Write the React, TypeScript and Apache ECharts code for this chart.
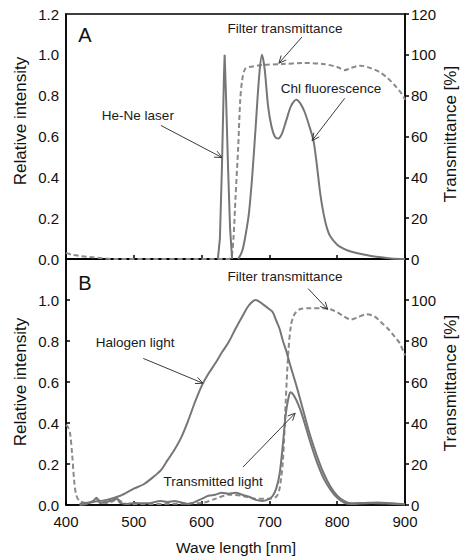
import React, { useEffect, useRef } from "react";
import * as echarts from "echarts";

// ---------- Data (wavelength in nm, relative intensity / transmittance %) ----------
// Panel A
const heNeWl = [624, 627, 630, 633, 634, 636, 639, 642, 645];
const heNeVal = [0, 0.1, 0.45, 0.9, 1.0, 0.8, 0.45, 0.15, 0];

const chlWl = [654, 660, 665, 670, 675, 680, 685, 689, 693, 698, 703, 708, 713, 718, 725, 732, 740, 746, 752, 758, 765, 770, 775, 780, 785, 790, 800, 810, 820, 835, 850, 865, 880, 900];
const chlVal = [0, 0.04, 0.12, 0.23, 0.42, 0.66, 0.9, 1.0, 0.93, 0.75, 0.65, 0.6, 0.59, 0.61, 0.68, 0.75, 0.78, 0.76, 0.72, 0.66, 0.58, 0.46, 0.32, 0.22, 0.15, 0.11, 0.07, 0.05, 0.037, 0.024, 0.015, 0.008, 0.003, 0];

const filterAWl = [400, 410, 420, 435, 450, 470, 640, 644, 647, 650, 654, 657, 660, 664, 670, 690, 720, 750, 780, 800, 811, 820, 834, 845, 860, 873, 885, 895, 900];
const filterAVal = [3, 2, 1.5, 1, 0.5, 0, 0, 1, 10, 30, 55, 78, 88, 93, 94, 95, 95.5, 96, 95.5, 94, 92.5, 93.5, 94.7, 94, 92, 89, 85, 81, 78];

// Panel B
const halWl = [420, 440, 460, 480, 500, 514, 530, 540, 550, 560, 570, 580, 590, 600, 610, 620, 630, 640, 650, 660, 670, 680, 690, 700, 705, 710, 715, 720, 725, 730, 740, 750, 760, 770, 780, 790, 800, 810, 820, 840, 860, 880, 900];
const halVal = [0.005, 0.015, 0.025, 0.045, 0.08, 0.1, 0.14, 0.17, 0.22, 0.27, 0.33, 0.41, 0.5, 0.58, 0.64, 0.69, 0.745, 0.795, 0.86, 0.92, 0.975, 1.0, 0.98, 0.955, 0.94, 0.9, 0.86, 0.8, 0.75, 0.69, 0.58, 0.46, 0.34, 0.24, 0.155, 0.09, 0.045, 0.02, 0.008, 0.01, 0.012, 0.008, 0.004];

const transWl = [420, 430, 440, 445, 450, 460, 470, 475, 480, 490, 500, 520, 540, 550, 560, 580, 600, 610, 620, 630, 640, 650, 660, 670, 680, 690, 700, 705, 710, 715, 720, 724, 728, 731, 735, 740, 745, 750, 760, 770, 780, 790, 800, 810, 820, 850, 880, 900];
const transVal = [0, 0.005, 0.02, 0.035, 0.01, 0.015, 0.025, 0.03, 0.01, 0.005, 0.01, 0.008, 0.02, 0.015, 0.02, 0.005, 0.03, 0.045, 0.05, 0.06, 0.055, 0.06, 0.05, 0.04, 0.025, 0.02, 0.03, 0.045, 0.08, 0.15, 0.3, 0.44, 0.52, 0.55, 0.54, 0.51, 0.47, 0.42, 0.31, 0.21, 0.13, 0.075, 0.035, 0.012, 0.005, 0.01, 0.006, 0.002];

const filterBWl = [400, 403, 406, 409, 412, 415, 420, 430, 440, 445, 450, 460, 470, 475, 480, 490, 500, 600, 620, 640, 660, 680, 700, 710, 715, 720, 724, 728, 732, 737, 745, 760, 780, 790, 800, 810, 820, 830, 843, 855, 865, 875, 885, 892, 900];
const filterBVal = [39, 38, 35, 25, 12, 5, 2, 1, 1.5, 3, 2, 1, 2, 3, 2, 0.5, 0.5, 1, 3, 5, 4.5, 3, 3, 4, 8, 22, 50, 75, 88, 93, 95.5, 96, 96, 95.5, 94, 92, 90.5, 91.5, 93, 92, 89, 86, 82, 79, 73];

// Axis ticks
const xTicks = { min: 400, max: 900, interval: 100 };
const relTicks = { min: 0, max: 1.2, interval: 0.2 };
const pctTicks = { min: 0, max: 120, interval: 20 };

// Annotations (data coordinates of panel: text centre, arrow start, arrow tip)
const annotations = [
  { panel: 0, text: "Filter transmittance", t: [723, 1.131], from: [748, 1.087], to: [714, 0.959] },
  { panel: 0, text: "Chl fluorescence", t: [791, 0.836], from: [811, 0.787], to: [763, 0.58] },
  { panel: 0, text: "He-Ne laser", t: [506, 0.703], from: [540, 0.654], to: [630, 0.497] },
  { panel: 1, text: "Filter transmittance", t: [723, 1.114], from: [757, 1.056], to: [786, 0.954] },
  { panel: 1, text: "Halogen light", t: [502, 0.793], from: [514, 0.715], to: [602, 0.594] },
  { panel: 1, text: "Transmitted light", t: [617, 0.117], from: [661, 0.185], to: [738, 0.448] },
];
const panelLabels = [
  { panel: 0, text: "A", t: [428, 1.097] },
  { panel: 1, text: "B", t: [428, 1.085] },
];

const FONT = '"Liberation Sans", Arial, Helvetica, sans-serif';
const LINE = "#767676";

const pairs = (xs: number[], ys: number[]) => xs.map((x, i) => [x, ys[i]]);

export default function App() {
  const ref = useRef<HTMLDivElement>(null);
  useEffect(() => {
    if (!ref.current) return;
    const chart = echarts.init(ref.current, null, { renderer: "svg" });

    const gridBase = {
      left: 66,
      right: 55,
      show: true,
      borderColor: "#000",
      borderWidth: 1.5,
      containLabel: false,
      outerBoundsMode: "none",
    };
    const xAxisOf = (g: number) => ({
      type: "value",
      gridIndex: g,
      ...xTicks,
      axisLine: { show: true, lineStyle: { color: "#000", width: 1.5 } },
      axisTick: { show: true, inside: true, length: 4, lineStyle: { color: "#000", width: 1.5 } },
      axisLabel: { show: g === 1, color: "#111", fontSize: 15, fontFamily: FONT, margin: 9 },
      splitLine: { show: false },
    });
    const leftY = (g: number) => ({
      type: "value",
      gridIndex: g,
      position: "left",
      ...relTicks,
      axisLine: { show: true, lineStyle: { color: "#000", width: 1.5 } },
      axisTick: { show: g === 1, inside: true, length: 4, lineStyle: { color: "#000", width: 1.5 } },
      axisLabel: {
        color: "#111",
        fontSize: 15,
        fontFamily: FONT,
        margin: 7,
        showMinLabel: true,
        showMaxLabel: true,
        formatter: (v: number) => (g === 1 && v > 1.1 ? "" : v.toFixed(1)),
      },
      splitLine: { show: false },
    });
    const rightY = (g: number) => ({
      type: "value",
      gridIndex: g,
      position: "right",
      ...pctTicks,
      axisLine: { show: true, lineStyle: { color: "#000", width: 1.5 } },
      axisTick: { show: true, inside: false, length: 4, lineStyle: { color: "#000", width: 1.5 } },
      axisLabel: {
        color: "#111",
        fontSize: 15,
        fontFamily: FONT,
        margin: 6,
        showMinLabel: true,
        showMaxLabel: true,
        formatter: (v: number) => (g === 1 && v > 110 ? "" : String(Math.round(v))),
      },
      splitLine: { show: false },
    });

    const solid = (name: string, data: number[][], xi: number, yi: number) => ({
      type: "line",
      name,
      data,
      xAxisIndex: xi,
      yAxisIndex: yi,
      showSymbol: false,
      symbol: "none",
      smooth: 0.3,
      lineStyle: { color: LINE, width: 2 },
      z: 3,
    });
    const dashed = (name: string, data: number[][], xi: number, yi: number) => ({
      type: "line",
      name,
      data,
      xAxisIndex: xi,
      yAxisIndex: yi,
      showSymbol: false,
      symbol: "none",
      smooth: 0.3,
      lineStyle: { color: "#8a8a8a", width: 2, type: [5, 3] },
      z: 2,
    });

    chart.setOption({
      animation: false,
      backgroundColor: "#fff",
      textStyle: { fontFamily: FONT },
      grid: [
        { ...gridBase, top: 14, height: 245 },
        { ...gridBase, top: 259, height: 246 },
      ],
      xAxis: [xAxisOf(0), xAxisOf(1)],
      yAxis: [leftY(0), rightY(0), leftY(1), rightY(1)],
      series: [
        dashed("Filter transmittance A", pairs(filterAWl, filterAVal), 0, 1),
        { ...solid("He-Ne laser", pairs(heNeWl, heNeVal), 0, 0), smooth: false },
        solid("Chl fluorescence", pairs(chlWl, chlVal), 0, 0),
        dashed("Filter transmittance B", pairs(filterBWl, filterBVal), 1, 3),
        solid("Halogen light", pairs(halWl, halVal), 1, 2),
        solid("Transmitted light", pairs(transWl, transVal), 1, 2),
      ],
    });

    const toPx = (panel: number, p: number[]) =>
      chart.convertToPixel({ xAxisIndex: panel, yAxisIndex: panel === 0 ? 0 : 2 }, p) as number[];

    const graphics: any[] = [];
    annotations.forEach((a) => {
      const t = toPx(a.panel, a.t);
      const f = toPx(a.panel, a.from);
      const e = toPx(a.panel, a.to);
      graphics.push({
        type: "text",
        x: t[0],
        y: t[1],
        z: 10,
        style: { text: a.text, fill: "#1a1a1a", font: `13.5px ${FONT}`, align: "center", verticalAlign: "middle" },
      });
      graphics.push({
        type: "line",
        z: 10,
        shape: { x1: f[0], y1: f[1], x2: e[0], y2: e[1] },
        style: { stroke: "#3a3a3a", lineWidth: 1 },
      });
      const dx = e[0] - f[0];
      const dy = e[1] - f[1];
      const len = Math.hypot(dx, dy);
      const ux = dx / len;
      const uy = dy / len;
      const L = 8;
      const ang = (25 * Math.PI) / 180;
      const rot = (s: number) => [
        e[0] - L * (ux * Math.cos(s * ang) - uy * Math.sin(s * ang)),
        e[1] - L * (ux * Math.sin(s * ang) + uy * Math.cos(s * ang)),
      ];
      graphics.push({
        type: "polyline",
        z: 10,
        shape: { points: [rot(1), e, rot(-1)] },
        style: { stroke: "#3a3a3a", lineWidth: 1, fill: "none" },
      });
    });
    panelLabels.forEach((p) => {
      const t = toPx(p.panel, p.t);
      graphics.push({
        type: "text",
        x: t[0],
        y: t[1],
        z: 10,
        style: { text: p.text, fill: "#111", font: `20px ${FONT}`, align: "center", verticalAlign: "middle" },
      });
    });
    // axis names
    const axisNames = [
      { text: "Relative intensity", x: 20, y: 121, rot: Math.PI / 2 },
      { text: "Relative intensity", x: 20, y: 382, rot: Math.PI / 2 },
      { text: "Transmittance [%]", x: 450, y: 134, rot: Math.PI / 2 },
      { text: "Transmittance [%]", x: 450, y: 383, rot: Math.PI / 2 },
      { text: "Wave length [nm]", x: 236, y: 547, rot: 0 },
    ];
    axisNames.forEach((n) => {
      graphics.push({
        type: "text",
        x: n.x,
        y: n.y,
        rotation: n.rot,
        z: 10,
        style: {
          text: n.text,
          fill: "#111",
          font: `${n.rot ? 17 : 15.5}px ${FONT}`,
          align: "center",
          verticalAlign: "middle",
        },
      });
    });
    chart.setOption({ graphic: graphics });

    return () => chart.dispose();
  }, []);

  return (
    <div
      ref={ref}
      style={{ position: "absolute", left: 0, top: 0, width: 460, height: 559, background: "#fff" }}
    />
  );
}
